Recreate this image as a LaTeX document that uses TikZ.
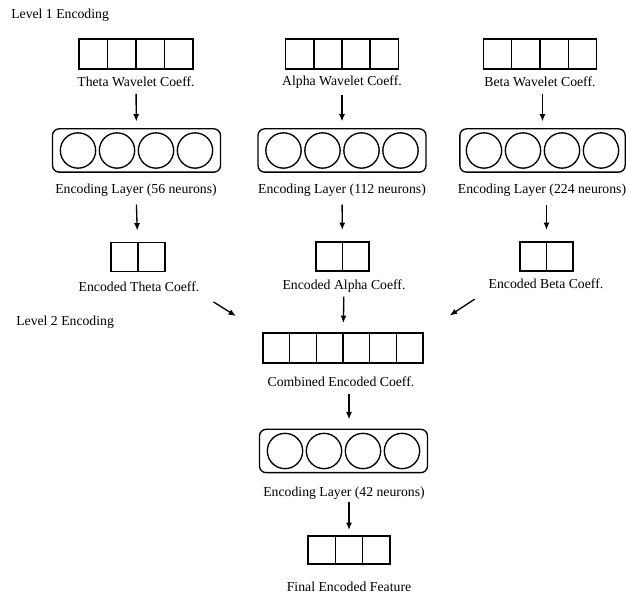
\documentclass[tikz,border=0pt]{standalone}
\usepackage{fontspec}
\setmainfont{Liberation Serif}
\usetikzlibrary{calc,positioning}
\usetikzlibrary{arrows.meta}
\tikzset{>=stealth}

% dividers inside a coefficient box
\newcommand{\cells}[2]{%
  \pgfmathtruncatemacro{\ncut}{#2-1}
  \foreach \i in {1,...,\ncut}
    \draw [line width=1.1pt] ($(#1.north west)!{\i/#2}!(#1.north east)$) -- ($(#1.south west)!{\i/#2}!(#1.south east)$);}
% four neurons inside a layer
\newcommand{\neurons}[1]{%
  \foreach \k in {1,...,4}
    \node [neuron] at ($(#1)+({(\k-2.5)*29.25pt},0)$) {};}

\begin{document}
\begin{tikzpicture}[x=0.75pt, y=-0.75pt,
		font=\fontsize{10.3}{12}\selectfont,
		coef/.style={draw, rectangle, line width=1.1pt, outer sep=0pt, minimum height=22.5pt},
		layer/.style={draw, rectangle, rounded corners=5pt, line width=1pt, minimum width=126pt, minimum height=32.5pt},
		neuron/.style={draw, circle, line width=1pt, minimum size=26.5pt, inner sep=0pt},
		txt/.style={inner sep=2pt},
		lvl/.style={inner sep=0pt, anchor=west},
		arr/.style={-{Latex[length=5.5pt,width=4.5pt]}, line width=1pt}]
		\useasboundingbox (0,0) rectangle (626,595);
		%% Level 1
		\node [lvl] (L1) at (11,15) {Level 1 Encoding};
		\node [coef, minimum width=85.5pt] (thW) at (136,54) {};
		\node [coef, minimum width=84.5pt] (alW) at (342,54) {};
		\node [coef, minimum width=85pt] (beW) at (540,54) {};
		\node [txt] (thWTxt) at (136,82) {Theta Wavelet Coeff.};
		\node [txt] (alWTxt) at (342,82) {Alpha Wavelet Coeff.};
		\node [txt] (beWTxt) at (540,82) {Beta Wavelet Coeff.};
		\cells{thW}{4} \cells{alW}{4} \cells{beW}{4}
		\node [layer] (thL) at (136.5,150.5) {};
		\node [layer] (alL) at (342,150.5) {};
		\node [layer, minimum width=124pt] (beL) at (542.5,150.5) {};
		\neurons{thL} \neurons{alL} \neurons{beL}
		\node [txt] (thLTxt) at (136,190) {Encoding Layer (56 neurons)};
		\node [txt] (alLTxt) at (342,190) {Encoding Layer (112 neurons)};
		\node [txt] (beLTxt) at (542,190) {Encoding Layer (224 neurons)};
		\node [coef, minimum width=40.5pt, minimum height=21.75pt] (thE) at (138,257) {};
		\node [coef, minimum width=40pt, minimum height=21.75pt] (alE) at (342.5,256.5) {};
		\node [coef, minimum width=40pt, minimum height=21.75pt] (beE) at (546.5,256.5) {};
		\cells{thE}{2} \cells{alE}{2} \cells{beE}{2}
		\node [txt] (thETxt) at (139,287) {Encoded Theta Coeff.};
		\node [txt] (alETxt) at (344,286) {Encoded Alpha Coeff.};
		\node [txt] (beETxt) at (546,284) {Encoded Beta Coeff.};
		%% Level 2
		\node [lvl] (L2) at (16,322) {Level 2 Encoding};
		\node [coef, minimum width=120pt] (comb) at (343,348) {};
		\cells{comb}{6}
		\node [txt] (combTxt) at (341,382) {Combined Encoded Coeff.};
		\node [layer] (fL) at (343.5,451) {};
		\neurons{fL}
		\node [txt] (fLTxt) at (344,493) {Encoding Layer (42 neurons)};
		\node [coef, minimum width=61.5pt, minimum height=21pt] (fin) at (349,550) {};
		\cells{fin}{3}
		\node [txt] (finTxt) at (349,587) {Final Encoded Feature};
		%% Flows
		\draw [arr, shorten <=3pt, shorten >=5pt] (thWTxt) -- (thL);
		\draw [arr, shorten <=3pt, shorten >=5pt] (alWTxt) -- (alL);
		\draw [arr, shorten <=3pt, shorten >=5pt] (beWTxt.south -| beL) -- (beL);
		\draw [arr, shorten <=4pt, shorten >=9pt] (thLTxt) -- (thE);
		\draw [arr, shorten <=4pt, shorten >=9pt] (alLTxt) -- (alE);
		\draw [arr, shorten <=4pt, shorten >=9pt] (beLTxt.south -| beE) -- (beE);
		\draw [arr, shorten <=10pt, shorten >=24pt] (thETxt.south east) -- (comb.north west);
		\draw [arr, shorten <=1pt, shorten >=7.5pt] (alETxt) -- (comb);
		\draw [arr, shorten <=10pt, shorten >=24pt] (beETxt.south west) -- (comb.north east);
		\draw [arr, shorten <=3pt, shorten >=7pt] (combTxt.south -| fin) -- (fL.north -| fin);
		\draw [arr, shorten <=0pt, shorten >=4.5pt] (fLTxt.south -| fin) -- (fin);
	\end{tikzpicture}
\end{document}
